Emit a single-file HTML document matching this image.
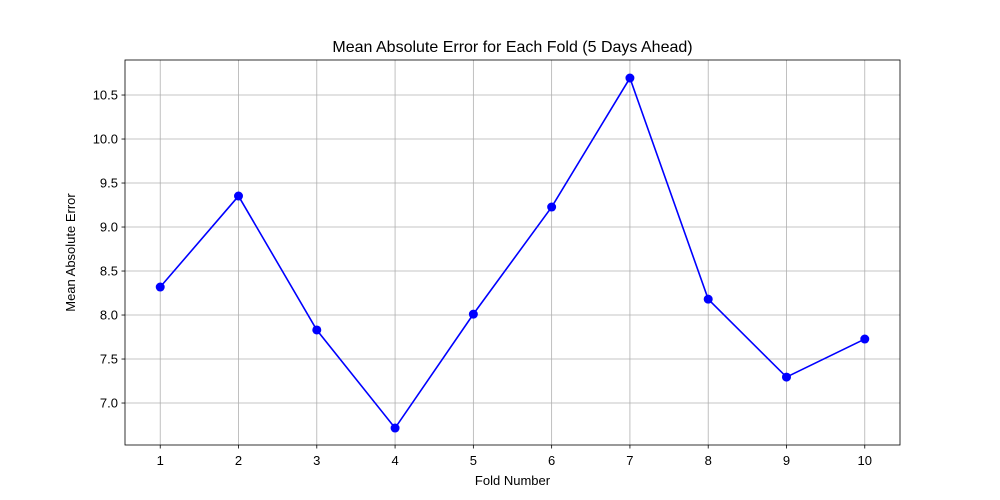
<!DOCTYPE html>
<html><head><meta charset="utf-8"><style>
body{margin:0;background:#fff;}
svg{display:block;font-family:"Liberation Sans","DejaVu Sans",sans-serif;}
</style></head><body>
<svg id="chart" width="1000" height="500"></svg>
<script>
const folds=[1,2,3,4,5,6,7,8,9,10];
const maeValues=[8.318,9.352,7.83,6.716,8.01,9.227,10.693,8.18,7.295,7.727];
const yTicks=[7.0,7.5,8.0,8.5,9.0,9.5,10.0,10.5];
const yTickLabels=["7.0","7.5","8.0","8.5","9.0","9.5","10.0","10.5"];
const xTickLabels=["1","2","3","4","5","6","7","8","9","10"];

const L=125,R=900,T=60,B=445;
const xMin=0.55,xMax=10.45,yMin=6.523,yMax=10.898;
const xs=v=>L+(v-xMin)/(xMax-xMin)*(R-L);
const ys=v=>B-(v-yMin)/(yMax-yMin)*(B-T);
const svg=document.getElementById('chart');
const NS='http://www.w3.org/2000/svg';
function mk(tag,attrs,parent){const e=document.createElementNS(NS,tag);for(const k in attrs)e.setAttribute(k,attrs[k]);(parent||svg).appendChild(e);return e;}

// grid
yTicks.forEach((v,i)=>{
 const g=mk('line',{x1:L,x2:R,y1:ys(v),y2:ys(v),stroke:'#b0b0b0','stroke-width':0.8});
 
 
 mk('line',{x1:L-3.5,x2:L,y1:ys(v),y2:ys(v),stroke:'#000','stroke-width':0.8});
 const t=mk('text',{x:L-7,y:ys(v)+4.5,'text-anchor':'end','font-size':13,fill:'#000'});
 t.textContent=yTickLabels[i];
 
 
});
folds.forEach((v,i)=>{
 const g=mk('line',{x1:xs(v),x2:xs(v),y1:T,y2:B,stroke:'#b0b0b0','stroke-width':0.8});
 
 
 mk('line',{x1:xs(v),x2:xs(v),y1:B,y2:B+3.5,stroke:'#000','stroke-width':0.8});
 const t=mk('text',{x:xs(v),y:B+20,'text-anchor':'middle','font-size':13,fill:'#000'});
 t.textContent=xTickLabels[i];
 
 
});
// frame
const f=mk('rect',{x:L,y:T,width:R-L,height:B-T,fill:'none',stroke:'#000','stroke-width':0.8});


// line
const pts=folds.map((v,i)=>xs(v)+','+ys(maeValues[i])).join(' ');
const pl=mk('polyline',{points:pts,fill:'none',stroke:'#0000ff','stroke-width':1.6});


folds.forEach((v,i)=>{
 const c=mk('circle',{cx:xs(v),cy:ys(maeValues[i]),r:4.5,fill:'#0000ff'});
 
 
});
// labels
const title=mk('text',{x:(L+R)/2,y:52,'text-anchor':'middle','font-size':16,fill:'#000'});
title.textContent='Mean Absolute Error for Each Fold (5 Days Ahead)';


const xl=mk('text',{x:(L+R)/2,y:485,'text-anchor':'middle','font-size':13,fill:'#000'});
xl.textContent='Fold Number';


const yl=mk('text',{x:75,y:(T+B)/2,'text-anchor':'middle','font-size':13,fill:'#000',transform:'rotate(-90 75 '+((T+B)/2)+')'});
yl.textContent='Mean Absolute Error';


</script>
</body></html>
